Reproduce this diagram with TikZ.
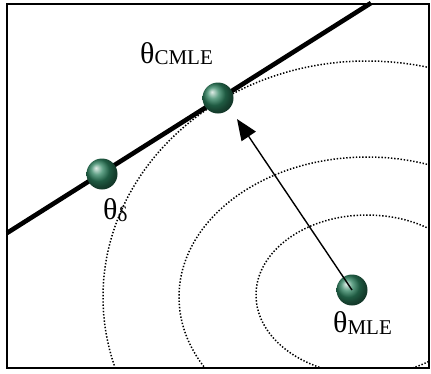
\documentclass[tikz,border=0pt]{standalone}
\usepackage{fontspec}
\setmainfont{Liberation Serif}
\usetikzlibrary{arrows.meta}
\newcommand\subsz{\fontsize{21}{21}\selectfont}
\definecolor{orbgreen}{RGB}{45,130,95}
\tikzset{
  orb/.style={circle, minimum size=31pt, inner sep=0pt, shading=ball, ball color=orbgreen},
  lbl/.style={anchor=base west, inner sep=0pt, font=\fontsize{30}{30}\selectfont},
  contour/.style={line width=1.5pt, dash pattern=on 1.4pt off 1.8pt},
  constraint/.style={line width=4.6pt},
  frame/.style={line width=1.6pt},
  arr/.style={line width=1.4pt, -{Triangle[length=21pt,width=17pt]}}
}
\begin{document}
\begin{tikzpicture}[x=1pt, y=-1pt]
  \useasboundingbox (0,0) rectangle (431,373);
  % likelihood contours around the unconstrained estimate
  \begin{scope}
    \clip (7,4) rectangle (429,368);
    \draw[contour] (367,295) ellipse [x radius=111pt, y radius=80pt];
    \draw[contour] (367,297) ellipse [x radius=188pt, y radius=140pt];
    \draw[contour] (367,297) ellipse [x radius=264pt, y radius=236pt];
  \end{scope}
  \draw[frame] (7,4) rectangle (429,368);
  % constraint line
  \coordinate (la) at (7,233);
  \coordinate (lb) at (371,3);
  \draw[constraint] (la) -- (lb);
  % estimates
  \node[orb] (t0) at (102,174) {};
  \node[orb] (cmle) at (218,98) {};
  \node[orb] (mle) at (352,290) {};
  \coordinate (tip) at (237,119);
  \draw[arr] (mle.center) -- (tip);
  % labels
  \node[lbl] (t0lbl) at (103,219) {θ\lower2pt\hbox{\subsz δ}};
  \node[lbl] (cmlelbl) at (140,63) {θ\lower1pt\hbox{\subsz CMLE}};
  \node[lbl] (mlelbl) at (333,332) {θ\lower2pt\hbox{\subsz MLE}};
\end{tikzpicture}
\end{document}
